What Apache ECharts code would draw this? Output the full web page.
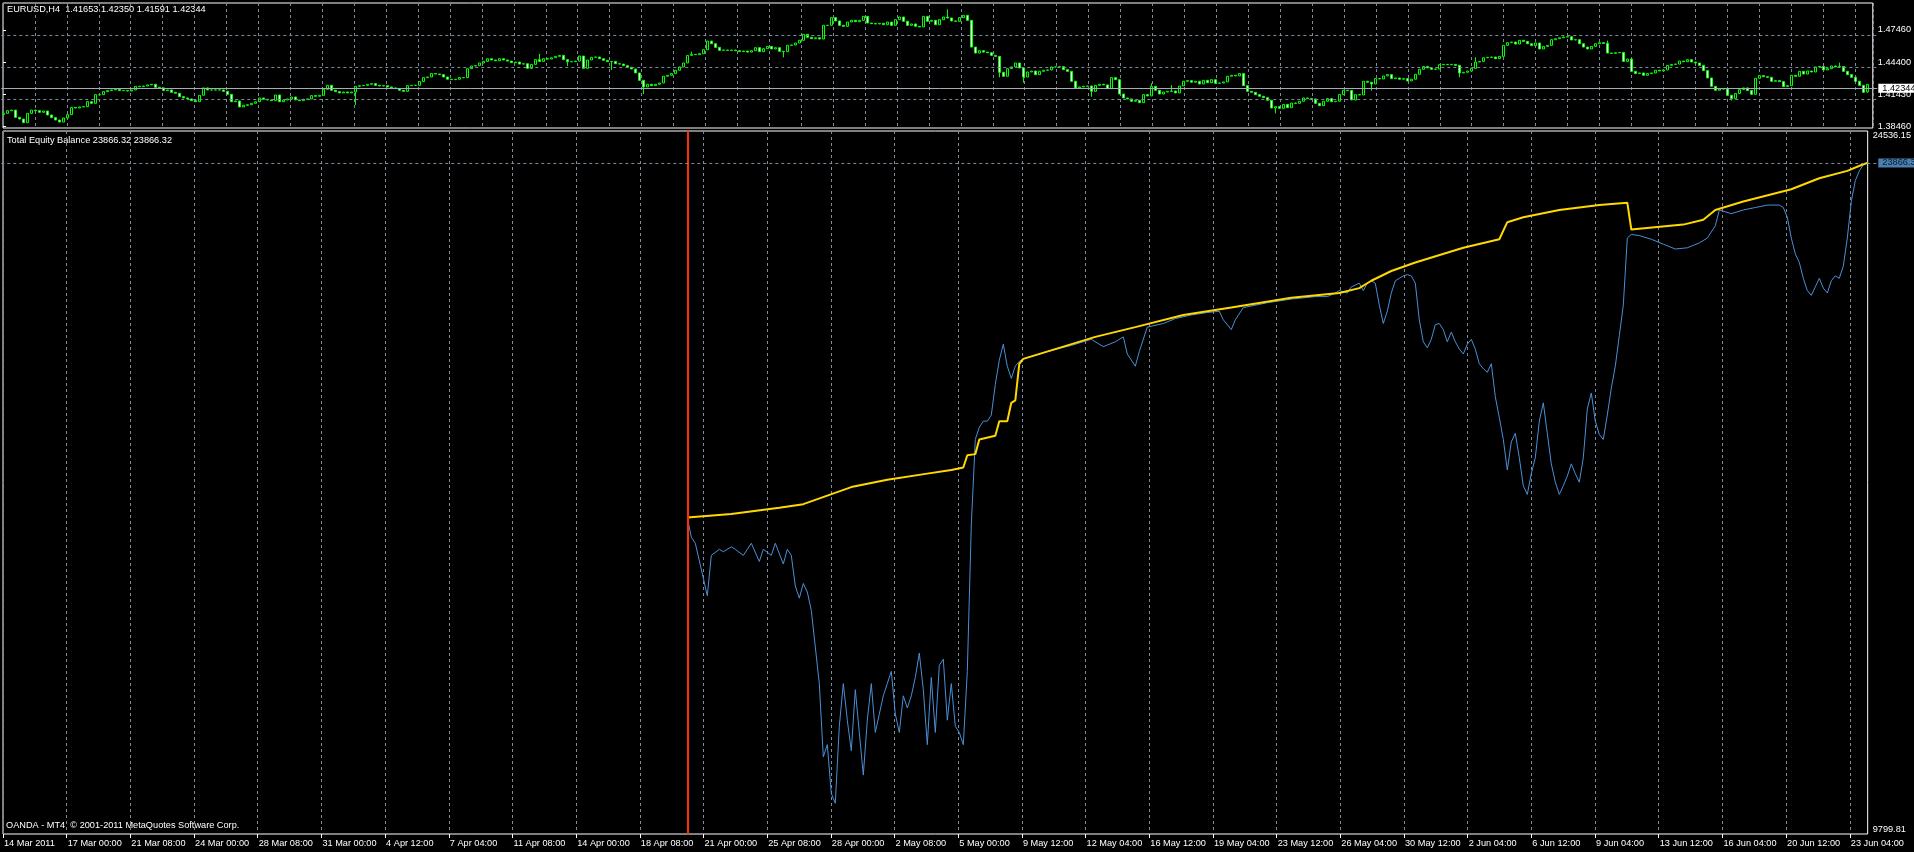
<!DOCTYPE html>
<html><head><meta charset="utf-8">
<script src="https://cdn.jsdelivr.net/npm/echarts@6.0.0/dist/echarts.min.js"></script>
<style>html,body{margin:0;padding:0;background:#000;}#c{width:1914px;height:852px;}</style>
</head><body><div id="c"></div><script>
// ---------- DATA ----------
const timeLabels = ['14 Mar 2011','17 Mar 00:00','21 Mar 08:00','24 Mar 00:00','28 Mar 08:00','31 Mar 00:00','4 Apr 12:00','7 Apr 04:00','11 Apr 08:00','14 Apr 00:00','18 Apr 08:00','21 Apr 00:00','25 Apr 08:00','28 Apr 00:00','2 May 08:00','5 May 00:00','9 May 12:00','12 May 04:00','16 May 12:00','19 May 04:00','23 May 12:00','26 May 04:00','30 May 12:00','2 Jun 04:00','6 Jun 12:00','9 Jun 04:00','13 Jun 12:00','16 Jun 04:00','20 Jun 12:00','23 Jun 04:00'];
const barsPerLabel = 16;
const priceTicks = [1.3846, 1.4143, 1.4440, 1.4746];
const equityScale = [9799.81, 24536.15];
const firstOpen = 1.3955;
const lastBar = {open: 1.41653, high: 1.42350, low: 1.41591, close: 1.42344};
const lastEquity = 23866.32, lastBalance = 23866.32;
// EURUSD H4 closes, one per bar
const closes = [
1.3965,1.3990,1.3996,1.3928,1.3912,1.3878,1.3965,1.3996,1.3990,1.3975,
1.3987,1.3950,1.3925,1.3903,1.3884,1.3922,1.3953,1.4021,1.4015,1.4025,
1.4028,1.4074,1.4059,1.4140,1.4140,1.4168,1.4178,1.4184,1.4190,1.4178,
1.4178,1.4174,1.4184,1.4218,1.4215,1.4221,1.4231,1.4237,1.4209,1.4203,
1.4178,1.4184,1.4162,1.4153,1.4121,1.4109,1.4100,1.4084,1.4074,1.4134,
1.4203,1.4184,1.4184,1.4184,1.4184,1.4171,1.4143,1.4074,1.4081,1.4025,
1.4040,1.4046,1.4059,1.4074,1.4109,1.4097,1.4090,1.4084,1.4137,1.4074,
1.4090,1.4100,1.4118,1.4090,1.4084,1.4097,1.4100,1.4131,1.4125,1.4134,
1.4190,1.4227,1.4181,1.4168,1.4156,1.4165,1.4156,1.4165,1.4218,1.4224,
1.4227,1.4237,1.4243,1.4227,1.4221,1.4224,1.4212,1.4203,1.4196,1.4181,
1.4171,1.4224,1.4227,1.4227,1.4262,1.4299,1.4305,1.4337,1.4333,1.4327,
1.4305,1.4284,1.4280,1.4284,1.4299,1.4299,1.4383,1.4408,1.4411,1.4436,
1.4451,1.4476,1.4464,1.4457,1.4476,1.4464,1.4454,1.4439,1.4445,1.4426,
1.4429,1.4386,1.4423,1.4467,1.4451,1.4476,1.4473,1.4485,1.4498,1.4507,
1.4467,1.4448,1.4448,1.4454,1.4501,1.4386,1.4464,1.4489,1.4492,1.4476,
1.4461,1.4448,1.4451,1.4429,1.4426,1.4411,1.4396,1.4380,1.4343,1.4274,
1.4212,1.4237,1.4224,1.4237,1.4249,1.4312,1.4321,1.4337,1.4368,1.4399,
1.4436,1.4507,1.4517,1.4514,1.4523,1.4560,1.4641,1.4616,1.4582,1.4554,
1.4557,1.4554,1.4557,1.4551,1.4542,1.4548,1.4538,1.4551,1.4579,1.4542,
1.4570,1.4591,1.4567,1.4579,1.4545,1.4542,1.4601,1.4604,1.4623,1.4648,
1.4704,1.4676,1.4663,1.4672,1.4660,1.4788,1.4788,1.4860,1.4829,1.4788,
1.4779,1.4819,1.4835,1.4822,1.4835,1.4872,1.4810,1.4804,1.4801,1.4807,
1.4794,1.4819,1.4788,1.4841,1.4866,1.4826,1.4788,1.4801,1.4779,1.4773,
1.4872,1.4826,1.4835,1.4794,1.4841,1.4866,1.4857,1.4829,1.4826,1.4860,
1.4882,1.4835,1.4585,1.4529,1.4551,1.4538,1.4532,1.4507,1.4498,1.4349,
1.4312,1.4383,1.4399,1.4436,1.4390,1.4305,1.4352,1.4361,1.4327,1.4358,
1.4368,1.4371,1.4399,1.4399,1.4402,1.4374,1.4358,1.4265,1.4203,1.4212,
1.4218,1.4221,1.4171,1.4227,1.4237,1.4231,1.4196,1.4299,1.4280,1.4146,
1.4109,1.4100,1.4078,1.4087,1.4065,1.4140,1.4128,1.4218,1.4181,1.4146,
1.4165,1.4171,1.4174,1.4156,1.4221,1.4265,1.4271,1.4256,1.4265,1.4240,
1.4274,1.4252,1.4280,1.4246,1.4249,1.4259,1.4312,1.4321,1.4315,1.4337,
1.4224,1.4171,1.4162,1.4140,1.4125,1.4112,1.4087,1.4015,1.4028,1.4012,
1.4049,1.4018,1.4062,1.4059,1.4078,1.4109,1.4103,1.4100,1.4059,1.4037,
1.4078,1.4103,1.4074,1.4078,1.4140,1.4181,1.4178,1.4090,1.4140,1.4137,
1.4265,1.4256,1.4240,1.4290,1.4287,1.4315,1.4327,1.4290,1.4296,1.4284,
1.4290,1.4268,1.4284,1.4330,1.4377,1.4404,1.4390,1.4377,1.4380,1.4420,
1.4423,1.4420,1.4423,1.4414,1.4343,1.4349,1.4361,1.4386,1.4445,1.4451,
1.4485,1.4489,1.4492,1.4476,1.4498,1.4601,1.4626,1.4632,1.4613,1.4648,
1.4638,1.4616,1.4598,1.4623,1.4567,1.4591,1.4601,1.4654,1.4663,1.4672,
1.4679,1.4682,1.4651,1.4654,1.4616,1.4585,1.4567,1.4591,1.4616,1.4626,
1.4619,1.4529,1.4526,1.4532,1.4535,1.4451,1.4473,1.4358,1.4337,1.4343,
1.4321,1.4337,1.4343,1.4368,1.4361,1.4371,1.4414,1.4423,1.4426,1.4454,
1.4448,1.4467,1.4445,1.4436,1.4414,1.4365,1.4296,1.4218,1.4181,1.4193,
1.4193,1.4134,1.4103,1.4150,1.4187,1.4203,1.4178,1.4143,1.4293,1.4318,
1.4308,1.4302,1.4265,1.4271,1.4262,1.4215,1.4224,1.4321,1.4312,1.4358,
1.4333,1.4361,1.4352,1.4399,1.4404,1.4371,1.4383,1.4408,1.4399,1.4404,
1.4358,1.4327,1.4302,1.4265,1.4227,1.4162,1.42344
];
// notable long wicks (bar index -> price)
const wickHigh = {134:1.4520, 172:1.4542, 236:1.4938, 287:1.4246, 292:1.4230, 368:1.4489, 401:1.4645, 459:1.4439};
const wickLow = {88:1.4043, 141:1.4408, 152:1.4371, 160:1.4146, 195:1.4489, 249:1.4302, 255:1.4252, 272:1.4121, 318:1.3965, 342:1.4178, 364:1.4302, 432:1.4084};
const testStartBar = 171;
// [bar index, value]
const balance = [[171,16433],[182,16510],[194,16638],[200,16714],[206,16894],[212,17072],[221,17226],[231,17354],[237,17431],[240,17482],[241,17738],[243,17763],[244,18070],[248,18147],[249,18454],[251,18454],[252,18838],[253,18889],[254,19657],[255,19760],[264,19990],[273,20220],[283,20425],[295,20680],[307,20834],[322,21039],[334,21141],[339,21243],[342,21397],[347,21601],[353,21781],[365,22088],[374,22267],[376,22625],[380,22727],[389,22881],[399,22983],[406,23034],[407,22471],[420,22574],[425,22676],[428,22881],[435,23060],[447,23316],[454,23546],[461,23700],[465,23840],[466,23866.32]];
const equity = [[171,16433],[172,16023],[173,15895],[176,14795],[177,15640],[179,15767],[180,15716],[182,15819],[183,15767],[185,15640],[186,15767],[187,15895],[189,15512],[190,15767],[192,15640],[193,15895],[195,15460],[196,15767],[197,15640],[198,15000],[199,14744],[200,15051],[201,14872],[202,14488],[203,13720],[204,12953],[205,11417],[206,11673],[207,10650],[208,10445],[209,12057],[210,12953],[211,12185],[212,11546],[213,12825],[214,11929],[215,11034],[216,12185],[217,12953],[218,11929],[219,12313],[220,12697],[221,12953],[222,13209],[223,12313],[224,11929],[225,12697],[226,12441],[227,12697],[228,13081],[229,13593],[230,12825],[231,11673],[232,13081],[233,11929],[234,13337],[235,13465],[236,12185],[237,12953],[238,12057],[239,11929],[240,11673],[241,13209],[242,16279],[243,18070],[244,18326],[245,18454],[246,18454],[247,18582],[248,19222],[249,19734],[250,20066],[251,19606],[252,19350],[253,19606],[254,19708],
[255,19760],[261,19913],[267,20041],[272,20169],[275,20015],[278,20118],[280,20220],[281,19862],[283,19606],[284,19913],[286,20425],[290,20501],[293,20604],[297,20680],[301,20731],[304,20757],[305,20578],[307,20373],[308,20578],[310,20834],[316,20936],[322,21013],[328,21064],[331,21064],[333,21141],[334,21192],[336,21141],[337,21269],[339,21346],[340,21192],[341,21346],
[342,21397],[343,21346],[344,20885],[345,20501],[346,20757],[347,21141],[348,21397],[349,21448],[350,21499],[351,21525],[352,21499],[353,21346],[354,20578],[355,20118],[356,19990],[357,20169],[358,20476],[359,20501],[360,20373],[361,20118],[362,20322],[363,20118],[364,19964],[365,19862],[366,20066],[367,20169],[368,19964],[369,19657],[370,19555],[371,19478],[372,19657],[373,18966],[374,18531],[375,18070],[376,17430],[377,18019],[378,18198],[379,17687],[380,17098],[381,16919],[382,17354],[383,17687],[384,18454],[385,18838],[386,18198],[387,17559],[388,17175],[389,16919],[390,17098],[391,17303],[392,17559],[393,17354],[394,17175],[395,17687],[396,18710],[397,19043],[398,18454],[399,18173],[400,18070],[401,18582],[402,19145],[403,19606],[404,20245],[405,20885],[406,22292],[407,22369],[409,22343],[412,22267],[415,22164],[418,22062],[421,22088],[424,22190],[426,22292],[428,22548],[429,22881],[432,22803],[435,22881],[438,22932],[441,22983],[444,22983],[445,22932],[446,22727],[447,22292],[448,21960],[449,21781],[450,21448],[451,21192],[452,21090],[453,21269],[454,21448],[455,21243],[456,21141],[457,21397],[458,21499],[459,21448],[460,21704],[461,22292],[462,23060],[463,23495],[464,23700],[465,23828],[466,23866.32]];

// ---------- BUILD ----------
const NBARS = 469;
const FONT = '"Liberation Sans", Arial, sans-serif';
const GRID = '#7d8a99';
const PMIN = 1.38282, PMAX = 1.49969;
const candles = closes.map((c, i) => {
  const o = i === 0 ? firstOpen : closes[i - 1];
  let lo = Math.min(o, c), hi = Math.max(o, c);
  if (wickHigh[i] !== undefined) hi = Math.max(hi, wickHigh[i]);
  if (wickLow[i] !== undefined) lo = Math.min(lo, wickLow[i]);
  return [o, c, lo, hi];
});
candles[candles.length - 1] = [lastBar.open, lastBar.close, lastBar.low, lastBar.high];
const cats = Array.from({length: NBARS}, (_, i) => String(i));
const labelBars = timeLabels.map((_, k) => k * barsPerLabel);
const dashed = {color: GRID, type: [3, 3], width: 1};

const chart = echarts.init(document.getElementById('c'));
chart.setOption({
  backgroundColor: '#000',
  animation: false,
  textStyle: {fontFamily: FONT},
  grid: [
    {left: 3, top: 3, width: 1874, height: 125, show: true, borderColor: '#fff', borderWidth: 1, backgroundColor: 'transparent'},
    {left: 3, top: 131, width: 1874, height: 703, show: true, borderColor: '#fff', borderWidth: 1, backgroundColor: 'transparent'},
    {left: 1.3, top: 3, width: 1876, height: 125},
    {left: 1.3, top: 131, width: 1876, height: 703}
  ],
  xAxis: [
    {gridIndex: 0, type: 'value', min: 0, max: 468.5, interval: 8, axisLine: {show: false}, axisTick: {show: false}, axisLabel: {show: false}, splitLine: {show: true, lineStyle: dashed}},
    {gridIndex: 1, type: 'value', min: 0, max: 468.5, interval: 8, axisLine: {show: false},
     axisTick: {show: true, customValues: labelBars, length: 4, lineStyle: {color: '#fff'}},
     axisLabel: {show: true, customValues: labelBars, formatter: v => timeLabels[Math.round(v / barsPerLabel)] || '', color: '#fff', fontSize: 9.2, fontFamily: FONT, align: 'left', margin: 5, padding: [0, 0, 0, 1]},
     splitLine: {show: true, lineStyle: dashed}},
    {gridIndex: 2, type: 'category', data: cats, show: false, boundaryGap: true},
    {gridIndex: 3, type: 'value', min: -0.5, max: NBARS - 0.5, show: false}
  ],
  yAxis: [
    {gridIndex: 0, type: 'value', position: 'right', min: PMIN, max: PMAX, splitLine: {show: false}, axisLine: {show: false},
     axisTick: {show: true, customValues: priceTicks, length: 3, lineStyle: {color: '#fff'}},
     axisLabel: {customValues: priceTicks, formatter: v => v.toFixed(5), color: '#fff', fontSize: 9.2, lineHeight: 9, fontFamily: FONT, margin: 5}},
    {gridIndex: 1, type: 'value', position: 'right', min: equityScale[0], max: equityScale[1], splitLine: {show: false}, axisLine: {show: false}, axisTick: {show: false},
     axisLabel: {customValues: equityScale, color: '#fff', fontSize: 9.2, fontFamily: FONT, margin: 5,
       formatter: v => v > (equityScale[0] + equityScale[1]) / 2 ? '{t|' + equityScale[1].toFixed(2) + '}' : '{b|' + equityScale[0].toFixed(2) + '}',
       rich: {t: {padding: [8, 0, 0, 0], color: '#fff', fontSize: 9.2, lineHeight: 9, fontFamily: FONT}, b: {padding: [0, 0, 10, 0], color: '#fff', fontSize: 9.2, lineHeight: 9, fontFamily: FONT}}}},
    {gridIndex: 2, type: 'value', min: PMIN, max: PMAX, show: false},
    {gridIndex: 3, type: 'value', min: equityScale[0], max: equityScale[1], show: false}
  ],
  series: [
    {type: 'candlestick', xAxisIndex: 2, yAxisIndex: 2, data: candles, barWidth: 2,
     itemStyle: {color: '#000', color0: '#fff', borderColor: '#00ff00', borderColor0: '#00ff00', borderColorDoji: '#00ff00', borderWidth: 1},
     markLine: {silent: true, symbol: ['none', 'none'], animation: false,
       data: priceTicks.map(p => ({yAxis: p, lineStyle: dashed, label: {show: false}})).concat([
         {yAxis: lastBar.close, lineStyle: {type: 'solid', color: '#a4acb4', width: 1},
          label: {show: true, position: 'end', distance: 1, formatter: lastBar.close.toFixed(5), backgroundColor: '#fff', color: '#000', fontSize: 9.2, lineHeight: 9, fontFamily: FONT, padding: [0, 8, 0, 4]}}])}},
    {type: 'line', name: 'Equity', xAxisIndex: 3, yAxisIndex: 3, data: equity, showSymbol: false, z: 3,
     lineStyle: {color: '#4b8fd6', width: 1},
     markLine: {silent: true, symbol: ['none', 'none'], animation: false,
       data: [
         {xAxis: testStartBar, lineStyle: {type: 'solid', color: '#ff3000', width: 2}, label: {show: false}},
         {yAxis: lastEquity, lineStyle: dashed,
          label: {show: true, position: 'end', distance: 1, formatter: lastEquity.toFixed(2), backgroundColor: '#4a7fb0', color: '#0a1a2a', fontSize: 9.2, lineHeight: 9, fontFamily: FONT, padding: [0, 8, 0, 4]}}]}},
    {type: 'line', name: 'Balance', xAxisIndex: 3, yAxisIndex: 3, data: balance, showSymbol: false, z: 4,
     lineStyle: {color: '#ffd800', width: 2}}
  ],
  graphic: [
    {type: 'text', left: 7, top: 5, style: {text: 'EURUSD,H4  ' + [lastBar.open, lastBar.high, lastBar.low, lastBar.close].map(v => v.toFixed(5)).join(' '), fill: '#fff', font: '9.2px ' + FONT}},
    {type: 'text', left: 7, top: 136, style: {text: 'Total Equity Balance ' + lastEquity.toFixed(2) + ' ' + lastBalance.toFixed(2), fill: '#fff', font: '9.2px ' + FONT}},
    {type: 'text', left: 6, top: 821, style: {text: 'OANDA - MT4, \u00a9 2001-2011 MetaQuotes Software Corp.', fill: '#fff', font: '9.2px ' + FONT}}
  ]
});
</script></body></html>
